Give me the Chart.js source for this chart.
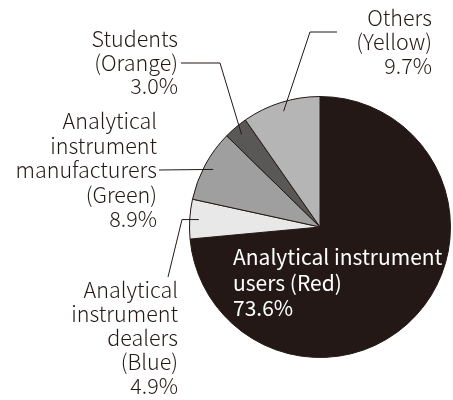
<!DOCTYPE html>
<html>
<head>
<meta charset="utf-8">
<script src="https://cdn.jsdelivr.net/npm/chart.js@4/dist/chart.umd.min.js"></script>
<style>
  html, body { margin: 0; padding: 0; background: #fff; }
  #wrap { width: 453px; height: 400px; position: relative; }
</style>
</head>
<body>
<div id="wrap"><canvas id="pie_chart"></canvas></div>
<script>
// data, clockwise from 12 o'clock
var categories = ['Analytical instrument users (Red)', 'Analytical instrument dealers (Blue)',
    'Analytical instrument manufacturers (Green)', 'Students (Orange)', 'Others (Yellow)'];
var shares = [73.6, 4.9, 8.9, 3.0, 9.7];
var labelLines = [
    ['Analytical instrument', 'users (Red)', '73.6%'],
    ['Analytical', 'instrument', 'dealers', '(Blue)', '4.9%'],
    ['Analytical', 'instrument', 'manufacturers', '(Green)', '8.9%'],
    ['Students', '(Orange)', '3.0%'],
    ['Others', '(Yellow)', '9.7%']
];
var fills = ['#231815', '#e8e8e8', '#9f9f9f', '#5a5757', '#b5b5b6'];

var INK = '#231815';
var FONT = '"Noto Sans CJK JP", "Noto Sans", sans-serif';

// where each text block sits and how its leader line runs
var labelBoxes = [
    { x: 233, y: 265, align: 'left', size: 21, lh: 25.5, color: '#fff' },
    { x: 178, y: 298, align: 'right', size: 21.5, lh: 24, leader: function (p) { return [p, [182, p.y], [168, 277]]; } },
    { x: 157, y: 129, align: 'right', size: 21.5, lh: 24.5, leader: function (p) { return [[159, 170], p]; } },
    { x: 178, y: 47, align: 'right', size: 21.5, lh: 23.5, leader: function (p) { return [[181, 63], [220, 63], p]; } },
    { x: 432, y: 26, align: 'right', size: 21.5, lh: 24, leader: function (p) { return [[337, 32], [310, 32], p]; } }
];

var labelPlugin = {
    id: 'sliceLabels',
    afterDraw: function (chart) {
        var ctx = chart.ctx;
        var arcs = chart.getDatasetMeta(0).data;
        ctx.save();
        arcs.forEach(function (arc, i) {
            var box = labelBoxes[i];
            var a = arc.getProps(['x', 'y', 'startAngle', 'endAngle', 'outerRadius'], true);
            var mid = (a.startAngle + a.endAngle) / 2;
            var p = { x: a.x + Math.cos(mid) * a.outerRadius * 0.93, y: a.y + Math.sin(mid) * a.outerRadius * 0.93 };
            if (box.leader) {
                var pts = box.leader(p).map(function (q) { return Array.isArray(q) ? q : [q.x, q.y]; });
                ctx.beginPath();
                ctx.moveTo(pts[0][0], pts[0][1]);
                for (var k = 1; k < pts.length; k++) ctx.lineTo(pts[k][0], pts[k][1]);
                ctx.strokeStyle = INK;
                ctx.lineWidth = 1;
                ctx.stroke();
            }
            ctx.fillStyle = box.color || INK;
            ctx.font = (box.color ? '400 ' : '300 ') + box.size + 'px ' + FONT;
            ctx.textAlign = box.align;
            ctx.textBaseline = 'alphabetic';
            labelLines[i].forEach(function (t, j) {
                ctx.fillText(t, box.x, box.y + j * box.lh);
            });
        });
        ctx.restore();
    }
};

new Chart(document.getElementById('pie_chart'), {
    type: 'pie',
    data: {
        labels: categories,
        datasets: [{
            data: shares,
            backgroundColor: fills,
            borderColor: INK,
            borderWidth: 1
        }]
    },
    options: {
        responsive: true,
        maintainAspectRatio: false,
        animation: false,
        layout: { padding: { left: 189, right: 2, top: 96, bottom: 42 } },
        plugins: {
            legend: { display: false },
            tooltip: { enabled: false }
        }
    },
    plugins: [labelPlugin]
});
</script>
</body>
</html>
